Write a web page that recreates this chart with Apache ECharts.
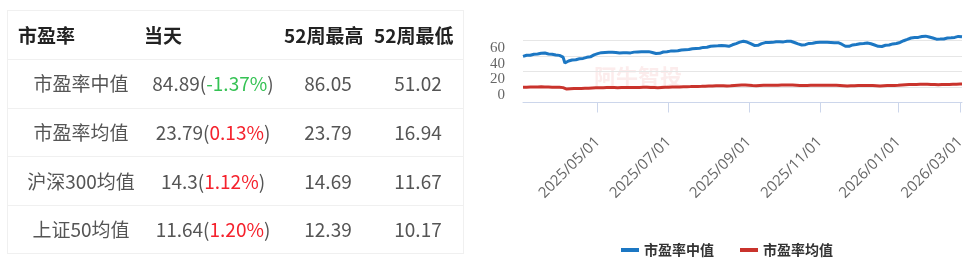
<!DOCTYPE html>
<html><head><meta charset="utf-8">
<script src="https://cdn.jsdelivr.net/npm/echarts@6/dist/echarts.min.js"></script>
<style>
html,body{margin:0;padding:0;background:#fff;width:968px;height:266px;overflow:hidden;font-family:"Noto Sans CJK SC","Noto Sans",sans-serif;}
#chart{position:absolute;left:0;top:0;width:968px;height:266px;}
#tbl{position:absolute;left:7px;top:10px;width:455px;height:242px;border:1px solid #f0f0f0;box-sizing:content-box;}
.c{position:absolute;white-space:nowrap;line-height:24px;height:24px;}
.h{font-weight:bold;color:#222;font-size:19px;}
.b{color:#555;font-size:19px;width:180px;text-align:center;}
.up{color:#f5222d}.dn{color:#35c254}
.sep{position:absolute;left:0;width:455px;height:1px;background:#f0f0f0;}
</style>
</head><body>
<div id="chart"></div>
<div id="tbl"></div>
<script>
// ---------- table data ----------
const tableHeaders = ['市盈率','当天','52周最高','52周最低'];
const rowNames = ['市盈率中值','市盈率均值','沪深300均值','上证50均值'];
const todayValues = ['84.89','23.79','14.3','11.64'];
const todayChanges = ['-1.37%','0.13%','1.12%','1.20%'];
const highValues = ['86.05','23.79','14.69','12.39'];
const lowValues = ['51.02','16.94','11.67','10.17'];

// ---------- chart data ----------
const seriesNames = ['市盈率中值','市盈率均值'];
const startDate = '2025-03-04';
const endDate = '2026-03-03';
const closedDays = ['2025-04-04','2025-05-01','2025-05-02','2025-05-05','2025-06-02',
  '2025-10-01','2025-10-02','2025-10-03','2025-10-06','2025-10-07','2025-10-08',
  '2026-01-01','2026-01-02','2026-02-16','2026-02-17','2026-02-18','2026-02-19','2026-02-20','2026-02-23'];
const medianPE = [
59.5,60.2,61.0,61.4,61.0,61.8,62.3,62.0,62.6,63.0,
63.5,64.3,63.8,63.2,62.5,62.9,62.2,61.8,61.2,60.5,
60.8,59.9,58.6,51.0,52.3,53.6,54.4,54.9,55.6,55.2,
55.8,56.4,56.1,56.9,57.5,58.3,58.0,58.9,60.2,61.5,
62.4,63.0,63.9,64.3,63.8,64.6,64.2,64.9,65.3,64.8,
65.2,64.6,64.0,63.9,64.5,64.1,64.8,64.3,63.8,64.0,
64.6,65.0,64.7,65.3,65.8,65.4,65.9,65.5,66.0,65.6,
65.1,64.5,63.8,63.2,62.6,63.5,64.4,65.2,65.0,65.6,
65.9,66.3,66.0,66.6,67.0,66.8,67.3,67.8,67.5,68.1,
68.5,68.3,68.9,69.4,69.1,69.8,70.3,70.0,70.6,71.1,
71.5,71.2,71.9,72.5,72.3,72.9,73.4,73.1,73.8,73.5,
73.9,73.2,72.8,72.5,73.4,74.5,75.3,76.0,76.8,77.9,
78.6,79.0,78.4,78.0,77.2,76.0,74.8,73.6,72.5,73.8,
74.9,75.9,76.6,77.3,76.8,77.5,78.1,77.6,78.0,78.4,
77.9,78.5,78.8,78.2,78.7,79.0,78.6,79.0,78.3,77.4,
76.5,75.6,74.8,74.2,73.8,74.6,75.5,76.2,76.8,76.4,
77.0,77.5,77.1,77.8,78.0,77.6,78.2,77.7,78.1,77.5,
77.8,77.2,77.6,77.2,76.5,75.2,73.9,72.6,71.6,72.5,
73.8,74.3,74.0,74.8,75.4,75.9,75.5,76.2,76.0,76.8,
76.4,75.8,75.0,74.2,73.3,72.5,71.6,72.3,73.1,73.9,
74.6,74.2,75.0,75.6,75.3,76.1,76.8,77.5,78.4,79.7,
80.5,81.4,82.3,83.2,83.0,83.8,84.3,84.0,84.8,85.2,
84.9,85.6,85.1,84.5,83.9,83.2,82.4,81.7,81.0,81.8,
82.4,82.0,82.7,83.2,82.8,83.5,83.7,84.0,84.6,85.3,
86.05,84.89];
const meanPE = [
19.6,19.7,19.8,19.8,19.9,19.8,20.0,20.0,20.1,20.0,
20.2,20.1,20.0,20.0,19.9,19.9,19.8,19.8,19.7,19.6,
19.6,19.5,19.2,16.94,17.3,17.6,17.8,17.9,18.0,18.0,
18.1,18.2,18.2,18.3,18.4,18.5,18.5,18.6,18.8,18.9,
19.0,19.0,19.1,19.2,19.1,19.2,19.2,19.3,19.3,19.2,
19.3,19.2,19.1,19.1,19.2,19.2,19.3,19.3,19.2,19.2,
19.3,19.4,19.4,19.5,19.5,19.5,19.6,19.6,19.7,19.6,
19.5,19.4,19.3,19.2,19.1,19.3,19.4,19.5,19.6,19.7,
19.8,19.8,19.9,20.0,20.0,20.1,20.1,20.2,20.3,20.3,
20.4,20.5,20.5,20.6,20.7,20.7,20.8,20.9,20.9,21.0,
21.1,21.1,21.2,21.3,21.3,21.4,21.5,21.5,21.6,21.6,
21.6,21.5,21.4,21.4,21.5,21.7,21.9,22.1,22.2,22.4,
22.5,22.6,22.5,22.4,22.2,22.0,21.8,21.7,21.6,21.8,
21.9,22.0,22.1,22.2,22.1,22.2,22.3,22.2,22.3,22.4,
22.3,22.4,22.5,22.4,22.5,22.6,22.5,22.6,22.5,22.4,
22.3,22.1,22.0,21.9,21.8,21.9,22.0,22.1,22.2,22.1,
22.2,22.3,22.2,22.3,22.4,22.3,22.4,22.3,22.4,22.3,
22.3,22.2,22.2,22.1,22.0,21.8,21.7,21.5,21.4,21.5,
21.6,21.7,21.7,21.8,21.9,21.9,21.9,22.0,22.0,22.1,
22.0,21.9,21.8,21.7,21.6,21.5,21.4,21.5,21.6,21.7,
21.8,21.8,21.9,22.0,22.0,22.1,22.2,22.4,22.6,22.8,
22.9,23.0,23.1,23.2,23.2,23.3,23.3,23.3,23.4,23.5,
23.5,23.6,23.5,23.4,23.3,23.2,23.1,23.0,22.9,23.0,
23.1,23.1,23.2,23.3,23.3,23.4,23.5,23.5,23.6,23.7,
23.76,23.79];
const yMin = 0, yMax = 100, yStep = 20;
const yShownLabels = [0,20,40,60];
const labelMonths = [1,3,5,7,9,11];

// ---------- build table ----------
(function(){
  const t = document.getElementById('tbl');
  const rowH = 48.7, headH = 48;
  const headLeft = [10,136,276,366];
  const bodyCenter = [73,205,320,410];
  let html = '';
  tableHeaders.forEach((h,i)=>{
    html += `<div class="c h" style="left:${headLeft[i]}px;top:${headH/2-12}px">${h}</div>`;
  });
  html += `<div class="sep" style="top:${headH}px"></div>`;
  rowNames.forEach((n,r)=>{
    const top = headH + r*rowH;
    const cy = top + rowH/2 - 12;
    if (r>0) html += `<div class="sep" style="top:${top}px"></div>`;
    const chg = todayChanges[r];
    const cls = chg.startsWith('-') ? 'dn' : 'up';
    const cells = [n, `${todayValues[r]}(<span class="${cls}">${chg}</span>)`, highValues[r], lowValues[r]];
    cells.forEach((txt,i)=>{
      html += `<div class="c b" style="left:${bodyCenter[i]-90}px;top:${cy}px">${txt}</div>`;
    });
  });
  t.innerHTML = html;
})();

// ---------- trading-day categories ----------
function buildDates(){
  const out = [];
  const d = new Date(startDate+'T00:00:00Z');
  const end = new Date(endDate+'T00:00:00Z');
  while (d <= end){
    const s = d.toISOString().slice(0,10);
    const wd = d.getUTCDay();
    if (wd!==0 && wd!==6 && closedDays.indexOf(s)<0) out.push(s);
    d.setUTCDate(d.getUTCDate()+1);
  }
  return out;
}
const dates = buildDates();
function isLabelDay(idx){
  if (idx===0) return false;
  const m = +dates[idx].slice(5,7), pm = +dates[idx-1].slice(5,7);
  return m!==pm && labelMonths.indexOf(m)>=0;
}

const chart = echarts.init(document.getElementById('chart'), null, {renderer:'canvas'});
chart.setOption({
  animation:false,
  backgroundColor:'transparent',
  grid:{left:523, right:6, top:25, bottom:163.5, outerBoundsMode:'none'},
  xAxis:{
    type:'category', data:dates, boundaryGap:false, offset:29,
    axisLine:{lineStyle:{color:'#ccd6eb', width:1}},
    axisTick:{show:true, length:10, interval:(i)=>isLabelDay(i), lineStyle:{color:'#ccd6eb'}},
    axisLabel:{rotate:45, interval:(i)=>isLabelDay(i), color:'#666', fontSize:15, margin:8,
      fontFamily:'Open Sans', formatter:(v)=>v.slice(0,4)+'/'+v.slice(5,7)+'/01'},
    splitLine:{show:false}
  },
  yAxis:{
    type:'value', min:yMin, max:yMax, interval:yStep,
    axisLine:{show:false}, axisTick:{show:false},
    splitLine:{showMaxLine:false, lineStyle:{color:'#e6e6e6', width:1}},
    axisLabel:{color:'#666', fontSize:15, lineHeight:15, fontFamily:'Liberation Serif', margin:18,
      verticalAlign:'bottom', hideOverlap:false, showMinLabel:true,
      formatter:(v)=> yShownLabels.indexOf(v)>=0 ? String(v) : ''}
  },
  legend:{
    left:616, top:238, icon:'rect', itemWidth:18, itemHeight:4, itemGap:26,
    textStyle:{color:'#333', fontSize:14, fontWeight:'bold', fontFamily:'Noto Sans CJK SC'},
    data:seriesNames
  },
  graphic:[{
    type:'text', left:594, top:66, silent:true, z:0,
    style:{text:'阿牛智投', fill:'rgba(240,140,140,0.17)', font:'bold 22px "Noto Sans CJK SC"'}
  }],
  series:[
    {name:seriesNames[0], type:'line', data:medianPE, showSymbol:false, symbol:'none',
     lineStyle:{color:'#1c77c3', width:3}, itemStyle:{color:'#1c77c3'}},
    {name:seriesNames[1], type:'line', data:meanPE, showSymbol:false, symbol:'none',
     lineStyle:{color:'#c9332c', width:3}, itemStyle:{color:'#c9332c'}}
  ]
});
</script>
</body></html>
